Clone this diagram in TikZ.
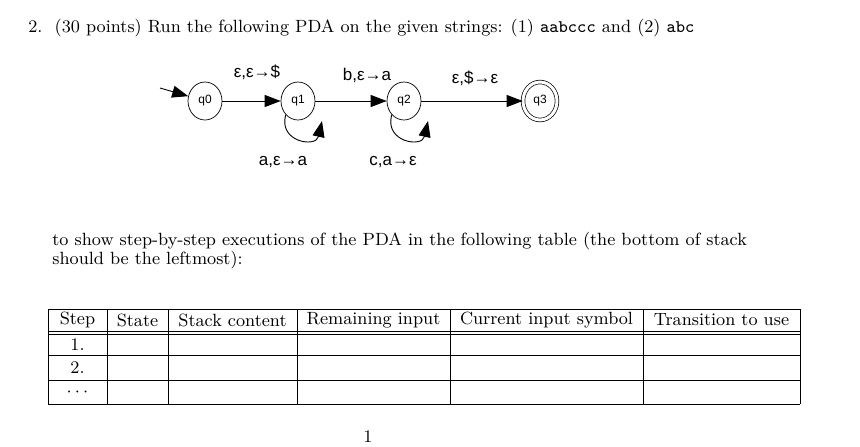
\documentclass[tikz,border=0pt]{standalone}
\usepackage{fontspec}
\newfontfamily\arial{Liberation Sans}
\usetikzlibrary{arrows.meta,shapes.geometric}
\begin{document}
\begin{tikzpicture}[x=0.5pt,y=-0.5pt,
  state/.style={draw,ellipse,minimum width=17pt,minimum height=19pt,inner sep=0pt,line width=0.35pt,font=\arial\fontsize{6}{7}\selectfont},
  lbl/.style={font=\arial\fontsize{8.5}{9}\selectfont},
  tr/.style={-{Triangle[length=8pt,width=6pt]},line width=0.45pt},
  txt/.style={anchor=base west,inner sep=0pt,font=\fontsize{8.85}{10.6}\selectfont},
  cell/.style={inner sep=0pt,font=\fontsize{8.85}{10.6}\selectfont},
  grid/.style={line width=0.5pt}]
\useasboundingbox (0,0) rectangle (860,446);
\fill[white] (0,0) rectangle (860,446);
\node[txt] (title) at (28,32) {2.\ \ (30 points) Run the following PDA on the given strings: (1) \texttt{aabccc} and (2) \texttt{abc}};
% PDA
\node[state] (q0) at (205,101) {q0};
\node[state] (q1) at (298,101) {q1};
\node[state] (q2) at (404,101) {q2};
\node[state,double,double distance=1.5pt] (q3) at (540,101) {q3};
\coordinate (start) at (160,88);
\draw[tr] (start) -- (q0);
\draw[tr] (q0) -- (q1);
\draw[tr] (q1) -- (q2);
\draw[tr] (q2) -- (q3);
\draw[tr] (q1.south west) .. controls (278,142) and (316,148) .. (322,121);
\draw[tr] (q2.south west) .. controls (384,142) and (422,148) .. (428,121);
\node[lbl] (l01) at (257,72) {ε,ε→\$};
\node[lbl] (l12) at (367,75) {b,ε→a};
\node[lbl] (l23) at (475,78) {ε,\$→ε};
\node[lbl] (l11) at (283,162) {a,ε→a};
\node[lbl] (l22) at (393,162) {c,a→ε};
\node[txt] (p1) at (52,245) {to show step-by-step executions of the PDA in the following table (the bottom of stack};
\node[txt] (p2) at (52,264) {should be the leftmost):};
% table
\foreach \x in {48,107,168,297,450,643,800} \draw[grid] (\x,309) -- (\x,404);
\foreach \y in {309,331,334,355,380,404} \draw[grid] (48,\y) -- (800,\y);
\node[cell] (h1) at (77.5,320) {Step};
\node[cell] (h2) at (137.5,320) {State};
\node[cell] (h3) at (232.5,320) {Stack content};
\node[cell] (h4) at (373.5,320) {Remaining input};
\node[cell] (h5) at (546.5,320) {Current input symbol};
\node[cell] (h6) at (721.5,320) {Transition to use};
\node[cell] (r1) at (77.5,345) {1.};
\node[cell] (r2) at (77.5,368) {2.};
\node[cell] (r3) at (77.5,392) {$\cdots$};
\node[cell] (pg) at (368,437) {1};
\end{tikzpicture}
\end{document}
